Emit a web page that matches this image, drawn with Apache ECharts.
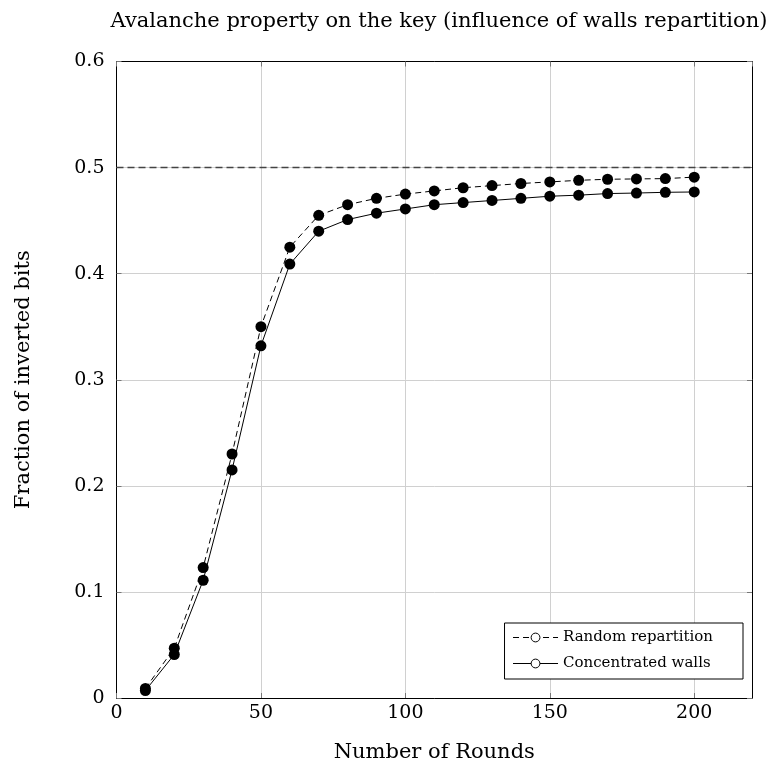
<!DOCTYPE html>
<html>
<head>
<meta charset="utf-8">
<script src="https://cdn.jsdelivr.net/npm/echarts@6/dist/echarts.min.js"></script>
<style>html,body{margin:0;padding:0;background:#fff}#c{width:769px;height:769px}</style>
</head>
<body>
<div id="c"></div>
<script>
const titleText = 'Avalanche property on the key (influence of walls repartition)';
const xName = 'Number of Rounds';
const yName = 'Fraction of inverted bits';
const rounds = [10, 20, 30, 40, 50, 60, 70, 80, 90, 100, 110, 120, 130, 140, 150, 160, 170, 180, 190, 200];
const randomRepartition = [0.009, 0.047, 0.123, 0.230, 0.350, 0.425, 0.455, 0.465, 0.471, 0.475, 0.478, 0.481, 0.483, 0.485, 0.4865, 0.488, 0.489, 0.4893, 0.4896, 0.491];
const concentratedWalls = [0.007, 0.041, 0.111, 0.215, 0.332, 0.409, 0.440, 0.451, 0.457, 0.461, 0.465, 0.467, 0.469, 0.471, 0.473, 0.474, 0.4755, 0.476, 0.4767, 0.477];
const seriesNames = ['Random repartition', 'Concentrated walls'];
const referenceLevel = 0.5;
const xMin = 0, xMax = 220, xStep = 50;
const yMin = 0, yMax = 0.6, yStep = 0.1;

const FONT = 'DejaVu Serif';
const chart = echarts.init(document.getElementById('c'), null, {renderer: 'canvas'});
const pairs = (xs, ys) => xs.map((x, i) => [x, ys[i]]);
const tickStyle = {show: true, inside: true, length: 5, lineStyle: {color: '#777', width: 1}};
const axisLine = {show: true, onZero: false, lineStyle: {color: '#000', width: 1}};
const grid = {left: 116.5, right: 17, top: 61.5, bottom: 71};

chart.setOption({
  animation: false,
  backgroundColor: '#fff',
  title: {
    text: titleText, left: 434, top: 6, textAlign: 'center',
    textStyle: {fontFamily: FONT, fontWeight: 'normal', fontSize: 21, color: '#000'}
  },
  grid: grid,
  legend: {
    orient: 'vertical', right: 26, bottom: 90,
    backgroundColor: '#fff', borderColor: '#000', borderWidth: 1, borderRadius: 0,
    padding: [7, 30, 8, 8], itemGap: 11, itemWidth: 45, itemHeight: 11,
    lineStyle: {width: 1},
    textStyle: {fontFamily: FONT, fontSize: 15, color: '#000'},
    data: seriesNames.map(n => ({name: n, itemStyle: {color: '#fff', borderColor: '#000', borderWidth: 1}}))
  },
  xAxis: [{
    type: 'value', min: xMin, max: xMax, interval: xStep,
    name: xName, nameLocation: 'middle', nameGap: 44,
    nameTextStyle: {fontFamily: FONT, fontSize: 21, color: '#000'},
    axisLine: axisLine, axisTick: tickStyle,
    axisLabel: {showMaxLabel: false, margin: 6, fontFamily: FONT, fontSize: 19, color: '#000'},
    splitLine: {show: true, lineStyle: {color: '#d0d0d0', width: 1}}
  }, {
    type: 'value', position: 'top', min: xMin, max: xMax, interval: xStep,
    axisLine: axisLine, axisTick: tickStyle, axisLabel: {show: false}, splitLine: {show: false}
  }],
  yAxis: [{
    type: 'value', min: yMin, max: yMax, interval: yStep,
    name: yName, nameLocation: 'middle', nameGap: 82, nameRotate: 90,
    nameTextStyle: {fontFamily: FONT, fontSize: 21, color: '#000'},
    axisLine: axisLine, axisTick: tickStyle,
    axisLabel: {margin: 12, fontFamily: FONT, fontSize: 19, color: '#000',
      formatter: v => (Math.abs(v) < 1e-9 ? '0' : v.toFixed(1))},
    splitLine: {show: true, lineStyle: {color: '#d0d0d0', width: 1}}
  }, {
    type: 'value', position: 'right', min: yMin, max: yMax, interval: yStep,
    axisLine: axisLine, axisTick: tickStyle, axisLabel: {show: false}, splitLine: {show: false}
  }],
  series: [{
    name: seriesNames[0], type: 'line', data: pairs(rounds, randomRepartition),
    symbol: 'circle', symbolSize: 11, z: 3,
    itemStyle: {color: '#000'},
    lineStyle: {color: '#000', width: 1, type: [6, 4]},
    markLine: {
      silent: true, symbol: 'none', label: {show: false},
      lineStyle: {color: '#444', width: 1.3, type: [7, 4]},
      data: [{yAxis: referenceLevel}]
    }
  }, {
    name: seriesNames[1], type: 'line', data: pairs(rounds, concentratedWalls),
    symbol: 'circle', symbolSize: 11, z: 3,
    itemStyle: {color: '#000'},
    lineStyle: {color: '#000', width: 1, type: 'solid'}
  }]
});
</script>
</body>
</html>
